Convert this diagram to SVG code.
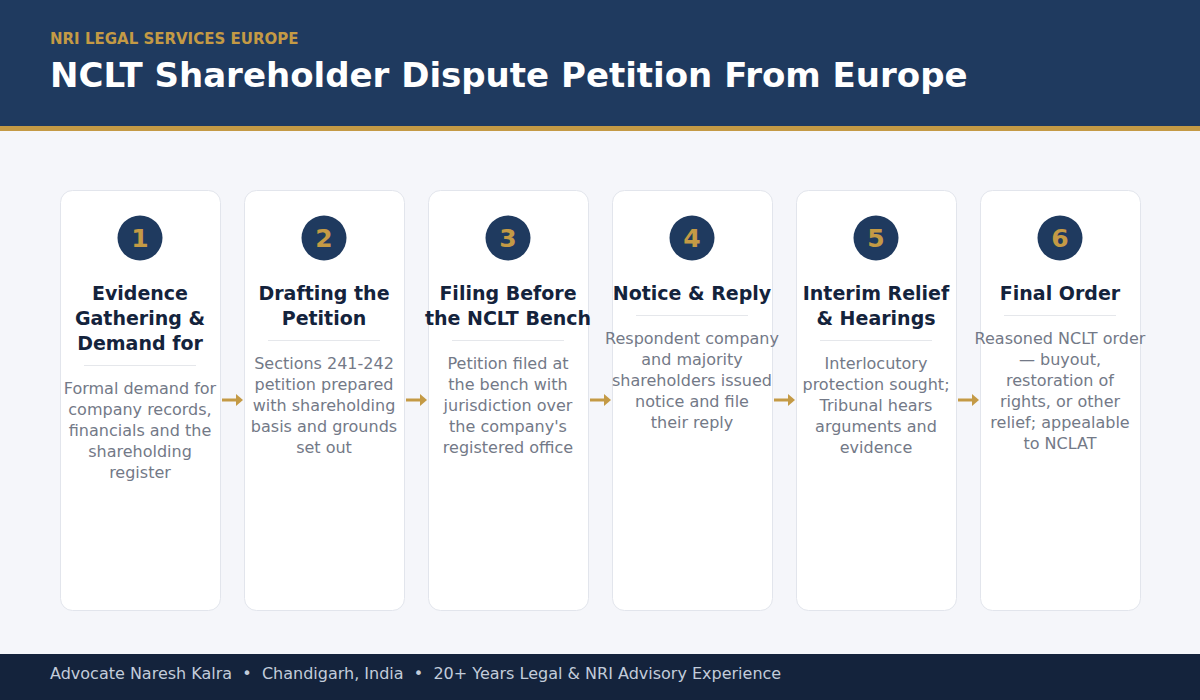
<svg xmlns="http://www.w3.org/2000/svg" width="1200" height="700" viewBox="0 0 1200 700">
<defs>
<style>
.card{fill:#FFFFFF;stroke:#E2E5EC;stroke-width:1}
.badge{fill:#1F3A5F}
.num{font-family:"DejaVu Sans",sans-serif;font-weight:bold;font-size:25px;fill:#C49A45;text-anchor:middle}
.ttl{font-family:"DejaVu Sans",sans-serif;font-weight:bold;font-size:19px;fill:#14233C;text-anchor:middle}
.desc{font-family:"DejaVu Sans",sans-serif;font-size:16px;fill:#737987;text-anchor:middle}
.div{stroke:#E5E7EB;stroke-width:1}
.conn{stroke:#C49A45;stroke-width:3;fill:none}
</style>
<marker id="ah" viewBox="0 0 10 10" refX="0" refY="5" markerWidth="7" markerHeight="12" markerUnits="userSpaceOnUse" orient="auto" preserveAspectRatio="none">
<path d="M0,0 L10,5 L0,10 Z" fill="#C49A45"/>
</marker>
</defs>
<rect x="0" y="0" width="1200" height="700" fill="#F5F6FA"/>
<g id="header">
<rect x="0" y="0" width="1200" height="126" fill="#1F3A5F"/>
<rect x="0" y="126" width="1200" height="5" fill="#C49A45"/>
<text x="50" y="44" font-family="DejaVu Sans, sans-serif" font-weight="bold" font-size="15" fill="#C49A45">NRI LEGAL SERVICES EUROPE</text>
<text x="50" y="87" font-family="DejaVu Sans, sans-serif" font-weight="bold" font-size="34" fill="#FFFFFF">NCLT Shareholder Dispute Petition From Europe</text>
</g>
<g id="connectors">
<line class="conn" x1="222" y1="400" x2="236" y2="400" marker-end="url(#ah)"/>
<line class="conn" x1="406" y1="400" x2="420" y2="400" marker-end="url(#ah)"/>
<line class="conn" x1="590" y1="400" x2="604" y2="400" marker-end="url(#ah)"/>
<line class="conn" x1="774" y1="400" x2="788" y2="400" marker-end="url(#ah)"/>
<line class="conn" x1="958" y1="400" x2="972" y2="400" marker-end="url(#ah)"/>
</g>
<g id="step1">
<rect class="card" x="60.5" y="190.5" width="160" height="420" rx="12"/>
<circle class="badge" cx="140" cy="238" r="22.5"/>
<text class="num" x="140" y="247">1</text>
<text class="ttl" x="140" y="300">Evidence</text>
<text class="ttl" x="140" y="325">Gathering &amp;</text>
<text class="ttl" x="140" y="350">Demand for</text>
<line class="div" x1="84" y1="365.5" x2="196" y2="365.5"/>
<text class="desc" x="140" y="394">Formal demand for</text>
<text class="desc" x="140" y="415">company records,</text>
<text class="desc" x="140" y="436">financials and the</text>
<text class="desc" x="140" y="457">shareholding</text>
<text class="desc" x="140" y="478">register</text>
</g>
<g id="step2">
<rect class="card" x="244.5" y="190.5" width="160" height="420" rx="12"/>
<circle class="badge" cx="324" cy="238" r="22.5"/>
<text class="num" x="324" y="247">2</text>
<text class="ttl" x="324" y="300">Drafting the</text>
<text class="ttl" x="324" y="325">Petition</text>
<line class="div" x1="268" y1="340.5" x2="380" y2="340.5"/>
<text class="desc" x="324" y="369">Sections 241-242</text>
<text class="desc" x="324" y="390">petition prepared</text>
<text class="desc" x="324" y="411">with shareholding</text>
<text class="desc" x="324" y="432">basis and grounds</text>
<text class="desc" x="324" y="453">set out</text>
</g>
<g id="step3">
<rect class="card" x="428.5" y="190.5" width="160" height="420" rx="12"/>
<circle class="badge" cx="508" cy="238" r="22.5"/>
<text class="num" x="508" y="247">3</text>
<text class="ttl" x="508" y="300">Filing Before</text>
<text class="ttl" x="508" y="325">the NCLT Bench</text>
<line class="div" x1="452" y1="340.5" x2="564" y2="340.5"/>
<text class="desc" x="508" y="369">Petition filed at</text>
<text class="desc" x="508" y="390">the bench with</text>
<text class="desc" x="508" y="411">jurisdiction over</text>
<text class="desc" x="508" y="432">the company's</text>
<text class="desc" x="508" y="453">registered office</text>
</g>
<g id="step4">
<rect class="card" x="612.5" y="190.5" width="160" height="420" rx="12"/>
<circle class="badge" cx="692" cy="238" r="22.5"/>
<text class="num" x="692" y="247">4</text>
<text class="ttl" x="692" y="300">Notice &amp; Reply</text>
<line class="div" x1="636" y1="315.5" x2="748" y2="315.5"/>
<text class="desc" x="692" y="344">Respondent company</text>
<text class="desc" x="692" y="365">and majority</text>
<text class="desc" x="692" y="386">shareholders issued</text>
<text class="desc" x="692" y="407">notice and file</text>
<text class="desc" x="692" y="428">their reply</text>
</g>
<g id="step5">
<rect class="card" x="796.5" y="190.5" width="160" height="420" rx="12"/>
<circle class="badge" cx="876" cy="238" r="22.5"/>
<text class="num" x="876" y="247">5</text>
<text class="ttl" x="876" y="300">Interim Relief</text>
<text class="ttl" x="876" y="325">&amp; Hearings</text>
<line class="div" x1="820" y1="340.5" x2="932" y2="340.5"/>
<text class="desc" x="876" y="369">Interlocutory</text>
<text class="desc" x="876" y="390">protection sought;</text>
<text class="desc" x="876" y="411">Tribunal hears</text>
<text class="desc" x="876" y="432">arguments and</text>
<text class="desc" x="876" y="453">evidence</text>
</g>
<g id="step6">
<rect class="card" x="980.5" y="190.5" width="160" height="420" rx="12"/>
<circle class="badge" cx="1060" cy="238" r="22.5"/>
<text class="num" x="1060" y="247">6</text>
<text class="ttl" x="1060" y="300">Final Order</text>
<line class="div" x1="1004" y1="315.5" x2="1116" y2="315.5"/>
<text class="desc" x="1060" y="344">Reasoned NCLT order</text>
<text class="desc" x="1060" y="365">— buyout,</text>
<text class="desc" x="1060" y="386">restoration of</text>
<text class="desc" x="1060" y="407">rights, or other</text>
<text class="desc" x="1060" y="428">relief; appealable</text>
<text class="desc" x="1060" y="449">to NCLAT</text>
</g>
<g id="footer">
<rect x="0" y="654" width="1200" height="46" fill="#14233C"/>
<text x="50" y="679" font-family="DejaVu Sans, sans-serif" font-size="16" fill="#C2CCDA" xml:space="preserve">Advocate Naresh Kalra  •  Chandigarh, India  •  20+ Years Legal &amp; NRI Advisory Experience</text>
</g>
</svg>
